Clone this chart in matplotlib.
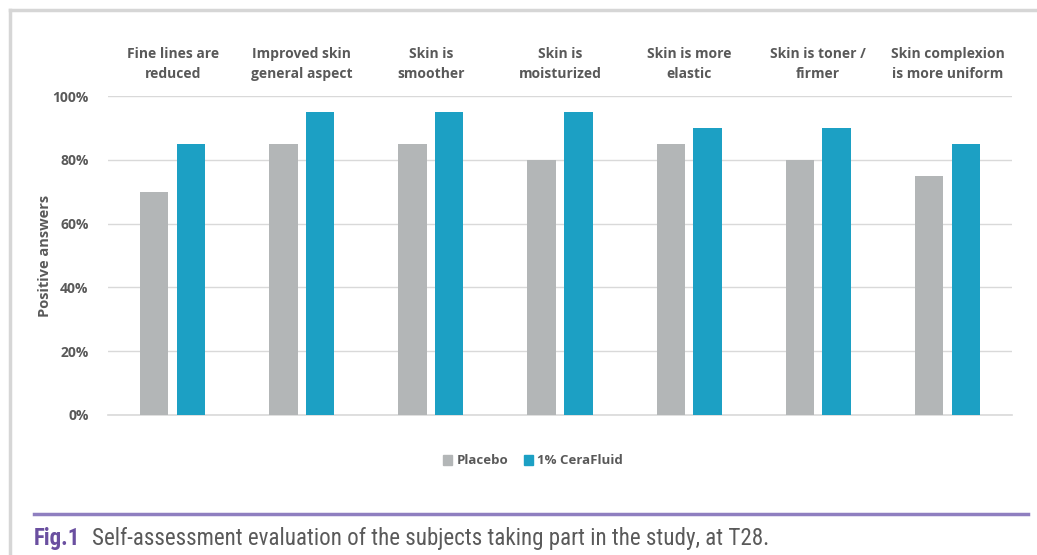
import matplotlib.pyplot as plt
from matplotlib.lines import Line2D
from matplotlib.patches import Patch
import numpy as np

# Categories and percentages of positive answers
categories = ["Fine lines are\nreduced", "Improved skin\ngeneral aspect", "Skin is\nsmoother",
              "Skin is\nmoisturized", "Skin is more\nelastic", "Skin is toner /\nfirmer",
              "Skin complexion\nis more uniform"]
placebo = [70, 85, 85, 80, 85, 80, 75]
cerafluid = [85, 95, 95, 95, 90, 90, 85]
yticks = [0, 20, 40, 60, 80, 100]

GRAY = "#b3b6b7"
BLUE = "#1ca0c4"
TEXT = "#595959"
PURPLE = "#8f7fc0"

plt.rcParams["font.family"] = ["Open Sans", "DejaVu Sans"]

W, H = 1037, 555
fig = plt.figure(figsize=(W / 100, H / 100), dpi=100)

# plot area in pixel coordinates
left, right, top, bottom = 108, 1012, 96, 415
ax = fig.add_axes([left / W, 1 - bottom / H, (right - left) / W, (bottom - top) / H])

x = np.arange(len(categories))
bw = 0.22
gap = 0.065
ax.bar(x - (bw + gap) / 2, placebo, width=bw, color=GRAY, zorder=3, label="Placebo")
ax.bar(x + (bw + gap) / 2, cerafluid, width=bw, color=BLUE, zorder=3, label="1% CeraFluid")

ax.set_xlim(-0.5, len(categories) - 0.5)
ax.set_ylim(0, 100)
ax.set_yticks(yticks)
ax.set_yticklabels([f"{v}%" for v in yticks], fontsize=10, fontweight="bold", color=TEXT)
ax.set_xticks([])
ax.tick_params(axis="y", length=0, pad=14)
ax.grid(axis="y", color="#d9d9d9", linewidth=1, zorder=0)
for side in ["top", "right", "left"]:
    ax.spines[side].set_visible(False)
ax.spines["bottom"].set_color("#d9d9d9")
ax.spines["bottom"].set_linewidth(1.2)
ax.set_ylabel("Positive answers", fontsize=10.5, fontweight="bold", color=TEXT, labelpad=0)

# category names above the bars
for i, name in enumerate(categories):
    ax.text(i, 1 + 32 / (bottom - top), name, transform=ax.get_xaxis_transform(),
            ha="center", va="center", fontsize=10, fontweight="bold", color=TEXT,
            linespacing=1.5)

handles = [Patch(color=GRAY, label="Placebo"), Patch(color=BLUE, label="1% CeraFluid")]
leg = fig.legend(handles=handles, loc="center", bbox_to_anchor=(533 / W, 1 - 461 / H),
                 ncol=2, frameon=False, handlelength=0.7, handleheight=0.7,
                 handletextpad=0.3, columnspacing=1.2,
                 prop={"weight": "bold", "size": 9.5})
for t in leg.get_texts():
    t.set_color(TEXT)

# outer frame: top and left edges only
fig.add_artist(Line2D([10 / W, 1], [1 - 10 / H] * 2, color="#d6d6d6", linewidth=2.5))
fig.add_artist(Line2D([10 / W] * 2, [1 - 10 / H, 0], color="#d6d6d6", linewidth=2.5))

# caption rule and caption
fig.add_artist(Line2D([34 / W, 1028 / W], [1 - 514 / H] * 2, color=PURPLE, linewidth=2.5))
cap_font = ["Roboto Condensed", "Liberation Sans Narrow", "Roboto", "DejaVu Sans"]
fig.text(34 / W, 1 - 539 / H, "Fig.1", family=cap_font, fontsize=16.5, fontweight="bold",
         color="#6a4fa0", va="center")
fig.text(92 / W, 1 - 539 / H, "Self-assessment evaluation of the subjects taking part in the study, at T28.",
         family=cap_font, fontsize=16.6, color="#5a5a5a", va="center")

fig.savefig("out.png", dpi=100)
